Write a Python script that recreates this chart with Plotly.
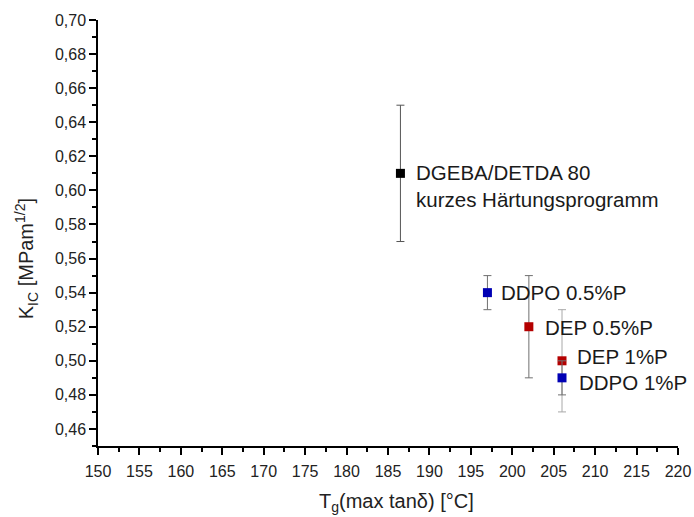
import plotly.graph_objects as go

# Glass transition temperature vs. fracture toughness per formulation
samples = ["DGEBA/DETDA 80<br>kurzes Härtungsprogramm", "DDPO 0.5%P", "DEP 0.5%P", "DEP 1%P", "DDPO 1%P"]
tg_values = [186.5, 197.0, 202.0, 206.0, 206.0]
kic_values = [0.61, 0.54, 0.52, 0.50, 0.49]
kic_errors = [0.04, 0.01, 0.03, 0.03, 0.01]
marker_colors = ["#000000", "#0000B4", "#B40000", "#B40000", "#0000B4"]
error_colors = ["#555555", "#707070", "#707070", "#A8A8A8", "#707070"]
# (x offset, y offset, vertical anchor) of each label next to its marker
label_shifts = [(14, 14, "top"), (12, 0, "middle"), (14, -1, "middle"), (13, 4, "middle"), (15, -5, "middle")]

x_ticks = list(range(150, 221, 5))
y_ticks = [round(0.46 + 0.02 * i, 2) for i in range(13)]

x_title = "T<sub>g</sub>(max tanδ) [°C]"
y_title = "K<sub>IC</sub> [MPam<sup>1/2</sup>]"

FONT = "Liberation Sans, Arial, sans-serif"

fig = go.Figure()

for name, x, y, e, mc, ec in zip(samples, tg_values, kic_values, kic_errors, marker_colors, error_colors):
    fig.add_trace(go.Scatter(
        x=[x], y=[y], mode="markers",
        marker=dict(symbol="square", size=9, color=mc),
        error_y=dict(type="data", array=[e], visible=True, color=ec, thickness=1, width=4),
        showlegend=False, name=name.split("<br>")[0],
    ))

for name, x, y, (dx, dy, va) in zip(samples, tg_values, kic_values, label_shifts):
    fig.add_annotation(
        x=x, y=y, text=name, showarrow=False, xanchor="left", yanchor=va,
        align="left", xshift=dx, yshift=dy,
        font=dict(family=FONT, size=20.5, color="#1a1a1a"),
    )

# axis titles placed as paper annotations
fig.add_annotation(
    x=0.514, y=-0.132, xref="paper", yref="paper", text=x_title, showarrow=False,
    xanchor="center", yanchor="middle", font=dict(family=FONT, size=20, color="#222222"),
)
fig.add_annotation(
    x=-0.123, y=0.44, xref="paper", yref="paper", text=y_title, showarrow=False,
    textangle=-90, xanchor="center", yanchor="middle",
    font=dict(family=FONT, size=20, color="#222222"),
)

axis_common = dict(
    showgrid=False, zeroline=False, showline=True, linecolor="#000000", linewidth=1.5,
    ticks="outside", ticklen=7, tickwidth=1.5, tickcolor="#000000",
    tickfont=dict(family=FONT, size=16, color="#222222"), mirror=False, automargin=False,
)

fig.update_xaxes(
    range=[150, 220], tickmode="array", tickvals=x_ticks, ticklabelstandoff=3,
    minor=dict(ticks="outside", ticklen=4, tickwidth=1.5, tickcolor="#000000", dtick=2.5, tick0=150),
    **axis_common,
)
fig.update_yaxes(
    range=[0.45, 0.70], tickmode="array", tickvals=y_ticks, tickformat=".2f",
    minor=dict(ticks="outside", ticklen=4, tickwidth=1.5, tickcolor="#000000", dtick=0.01, tick0=0.45),
    **axis_common,
)

fig.update_layout(
    width=694, height=517,
    margin=dict(l=98, r=16, t=20, b=71),
    plot_bgcolor="#FFFFFF", paper_bgcolor="#FFFFFF",
    separators=", ",
)

fig.write_html("out.html")
